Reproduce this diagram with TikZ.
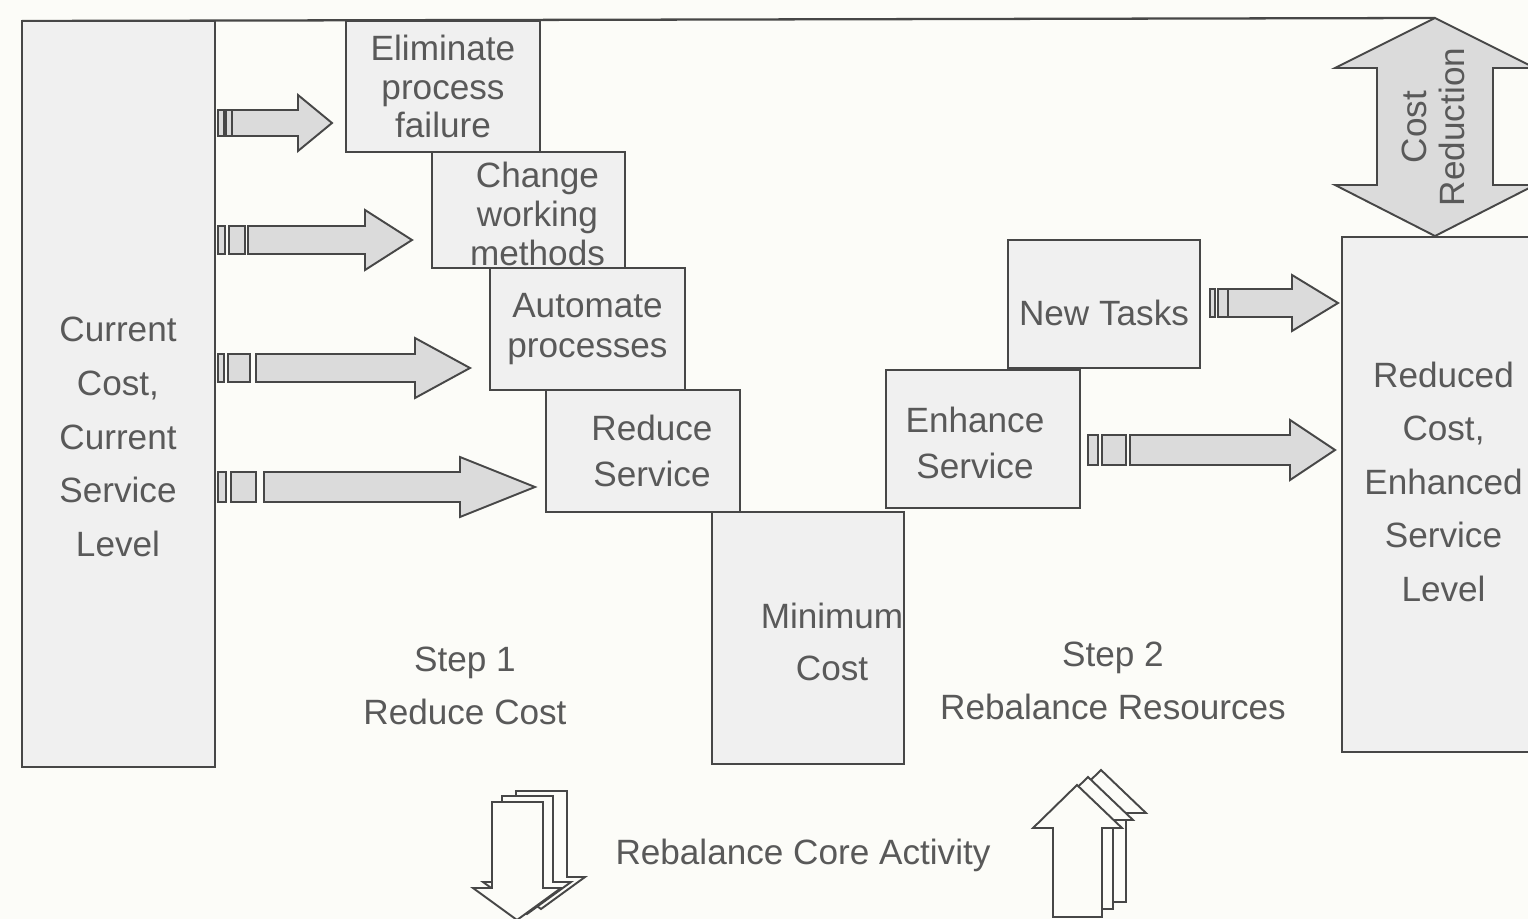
\documentclass[tikz,border=0pt]{standalone}
\usepackage{fontspec}
\setmainfont{Liberation Sans}
\usetikzlibrary{fit}
\definecolor{ink}{gray}{0.28}
\definecolor{txt}{gray}{0.35}
\definecolor{boxfill}{gray}{0.94}
\definecolor{arrfill}{gray}{0.86}
\definecolor{paper}{RGB}{252,252,248}
\newcommand\blockarrow[6]{%
  \draw[blk] ({#1},{#4-#5}) -- ({#2},{#4-#5}) -- ({#2},{#4-#6}) -- ({#3},{#4})
    -- ({#2},{#4+#6}) -- ({#2},{#4+#5}) -- ({#1},{#4+#5}) -- cycle;}
\newcommand\tailmark[6]{%
  \draw[blk,fill=arrfill] ({#1},{#5-#6}) rectangle ({#2},{#5+#6});
  \draw[blk,fill=arrfill] ({#3},{#5-#6}) rectangle ({#4},{#5+#6});}
\newcommand\downlayer{%
  \draw[stack] (492,802) -- (543,802) -- (543,888) -- (561,888) -- (517,920)
    -- (473,888) -- (492,888) -- cycle;}
\newcommand\uplayer{%
  \draw[stack] (1053,917) -- (1053,828) -- (1033,828) -- (1077,785)
    -- (1122,828) -- (1102,828) -- (1102,917) -- cycle;}
\begin{document}
\begin{tikzpicture}[x=0.02cm,y=-0.02cm,
  font=\fontsize{20}{22}\selectfont, text=txt,
  box/.style={draw=ink, line width=1.3pt, fill=boxfill, inner sep=0pt, align=center},
  blk/.style={draw=ink, line width=1.1pt, fill=arrfill, line join=miter},
  stack/.style={draw=ink, line width=1.1pt, fill=paper, line join=miter},
  lbl/.style={align=center, text=txt, inner sep=0pt}]
\useasboundingbox (0,0) rectangle (1528,919);
\clip (0,0) rectangle (1528,919);
\fill[paper] (0,0) rectangle (1528,919);

% top line to the cost reduction arrow
\coordinate (crtip) at (1435,18);
\draw[ink, line width=1.3pt] (22,21) -- (crtip);

% cost reduction double arrow
\draw[blk, fill=gray!28] (crtip) -- (1535,68) -- (1493,68) -- (1493,185) -- (1535,185)
  -- (1435,236) -- (1335,185) -- (1377,185) -- (1377,68) -- (1335,68) -- cycle;
\node[lbl, rotate=90, font=\fontsize{20}{21.5}\selectfont] (crtext) at (1433,127) {Cost\\Reduction};

% left box
\node[box, fit={(22,21) (215,767)}] (cur) {};
\node[lbl, font=\fontsize{20}{30.5}\selectfont] (curtext) at (118,437) {Current\\Cost,\\Current\\Service\\Level};

% step boxes
\node[box, fit={(346,21) (540,152)}] (elim) {};
\node[lbl] at (elim.center) {Eliminate\\process\\failure};
\node[box, fit={(432,152) (625,268)}] (chg) {};
\node[lbl] at ([xshift=0.18cm,yshift=-0.08cm]chg.center) {Change\\working\\methods};
\node[box, fit={(490,268) (685,390)}] (auto) {};
\node[lbl, font=\fontsize{20}{23}\selectfont] at (auto.center) {Automate\\processes};
\node[box, fit={(546,390) (740,512)}] (red) {};
\node[lbl, font=\fontsize{20}{26}\selectfont] at ([xshift=0.18cm]red.center) {Reduce\\Service};
\node[box, fit={(712,512) (904,764)}] (min) {};
\node[lbl, font=\fontsize{20}{30}\selectfont] (mintext) at (832,642) {Minimum\\Cost};
\node[box, fit={(886,370) (1080,508)}] (enh) {};
\node[lbl, font=\fontsize{20}{26}\selectfont] at ([xshift=-0.16cm,yshift=-0.08cm]enh.center) {Enhance\\Service};
\node[box, fit={(1008,240) (1200,368)}] (new) {};
\node[lbl] at ([yshift=-0.18cm]new.center) {New Tasks};

% right box
\node[box, fit={(1342,237) (1545,752)}, font=\fontsize{20}{30.5}\selectfont] (res) {Reduced\\Cost,\\Enhanced\\Service\\Level};

% block arrows from the current box to the steps
\tailmark{218}{224}{226}{232}{123}{13}
\blockarrow{232}{298}{332}{123}{13}{28}
\tailmark{218}{225}{229}{245}{240}{14}
\blockarrow{248}{365}{412}{240}{14}{30}
\tailmark{218}{224}{228}{250}{368}{14}
\blockarrow{256}{415}{470}{368}{14}{30}
\tailmark{218}{226}{231}{256}{487}{15}
\blockarrow{264}{460}{535}{487}{15}{30}
% arrows to the result box
\tailmark{1210}{1215}{1218}{1228}{303}{14}
\blockarrow{1228}{1292}{1338}{303}{14}{28}
\tailmark{1088}{1098}{1102}{1126}{450}{15}
\blockarrow{1130}{1290}{1335}{450}{15}{30}

% step labels
\node[lbl, font=\fontsize{20}{30}\selectfont] (s1) at (465,686) {Step 1\\Reduce Cost};
\node[lbl, font=\fontsize{20}{30}\selectfont] (s2) at (1113,681) {Step 2\\Rebalance Resources};

% bottom stacked arrows
\begin{scope}[shift={(24,-11)}]\downlayer\end{scope}
\begin{scope}[shift={(10,-6)}]\downlayer\end{scope}
\downlayer
\begin{scope}[shift={(24,-15)}]\uplayer\end{scope}
\begin{scope}[shift={(11,-8)}]\uplayer\end{scope}
\uplayer
\node[lbl] (core) at (803,855) {Rebalance Core Activity};
\end{tikzpicture}
\end{document}
